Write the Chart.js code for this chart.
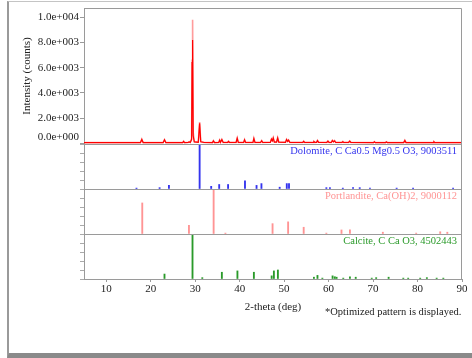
<!DOCTYPE html>
<html>
<head>
<meta charset="utf-8">
<script src="https://cdn.jsdelivr.net/npm/chart.js@4/dist/chart.umd.min.js"></script>
<style>
  body { margin: 0; background: #fff; }
  #wrap { position: relative; width: 472px; height: 358px; overflow: hidden; }
  #frame {
    position: absolute; left: 7px; top: 1px; width: 480px; height: 351px;
    border-left: 2px solid #9a9a9a; border-top: 1px solid #c4c4c4; border-bottom: 5px solid #8a8a8a;
  }
  canvas { position: absolute; left: 0; top: 0; }
  #note { position: absolute; left: 325px; top: 306px; font: 10.5px "Liberation Serif", serif; color: #222; white-space: nowrap; }
</style>
</head>
<body>
<div id="wrap">
  <div id="frame"></div>
  <canvas id="xrd_chart" width="472" height="358"></canvas>
  <div id="note">*Optimized pattern is displayed.</div>
</div>
<script>
// measured pattern (2-theta, counts)
const twoTheta = [5, 17.7, 18.0, 18.3, 22.8, 23.1, 23.4, 27.2, 27.4, 27.6, 28.4, 28.65, 28.9, 29.2, 29.3, 29.42, 29.55, 29.8,
  30.7, 31.0, 31.25, 32.0, 33.9, 34.1, 34.35, 35.3, 35.5, 35.7, 36.0, 36.3, 37.3, 37.5, 37.7, 39.2, 39.45, 39.7,
  40.9, 41.1, 41.35, 43.0, 43.2, 43.45, 44.7, 44.95, 45.2, 46.9, 47.15, 47.35, 47.55, 47.8, 48.3, 48.55, 48.8,
  50.3, 50.55, 50.8, 51.0, 51.3, 54.2, 54.4, 54.6, 56.5, 56.7, 57.0, 57.3, 57.5, 57.75, 59.6, 59.85, 60.1,
  60.6, 60.85, 61.1, 61.35, 61.6, 63.0, 63.2, 63.4, 64.5, 64.75, 65.0, 70.1, 70.3, 70.5, 72.8, 73.0, 73.2,
  76.9, 77.15, 77.4, 83.5, 83.7, 83.9, 90];
const calcCounts = [60, 60, 300, 60, 60, 280, 60, 60, 150, 60, 70, 120, 70, 300, 6400, 8200, 600, 120,
  90, 1600, 120, 70, 60, 200, 60, 70, 250, 90, 300, 70, 70, 150, 70, 70, 400, 70,
  70, 280, 70, 70, 380, 70, 70, 200, 70, 80, 330, 200, 420, 100, 100, 420, 90,
  80, 300, 150, 250, 70, 70, 160, 70, 70, 140, 70, 80, 220, 80, 70, 170, 70,
  70, 220, 120, 200, 70, 70, 130, 70, 70, 170, 70, 60, 120, 60, 60, 110, 60,
  60, 220, 60, 60, 120, 60, 60];
const obsCounts = [70, 70, 330, 70, 70, 300, 70, 70, 170, 70, 80, 140, 90, 400, 6600, 9800, 900, 150,
  100, 1700, 140, 80, 70, 220, 70, 80, 270, 100, 320, 80, 80, 170, 80, 80, 430, 80,
  80, 300, 80, 80, 400, 80, 80, 220, 80, 90, 350, 220, 450, 110, 110, 450, 100,
  90, 320, 170, 270, 80, 80, 180, 80, 80, 160, 80, 90, 240, 90, 80, 190, 80,
  80, 240, 140, 220, 80, 80, 150, 80, 80, 190, 80, 70, 140, 70, 70, 130, 70,
  70, 240, 70, 70, 140, 70, 70];

// reference patterns (2-theta, relative intensity %)
const dolomitePos = [16.8, 22.0, 24.1, 31.0, 33.6, 35.4, 37.4, 41.2, 43.8, 44.9, 49.0, 50.6, 51.1, 59.5, 60.3, 63.2, 65.5, 67.0, 69.3, 75.3, 79.0, 88.0];
const dolomiteInt = [2, 3, 8, 100, 6, 10, 10, 18, 8, 12, 4, 12, 12, 3, 3, 2, 3, 3, 2, 2, 2, 2];
const portlanditePos = [18.1, 28.6, 34.15, 36.8, 47.4, 50.9, 54.4, 59.5, 62.9, 64.8, 72.2, 79.7, 85.1, 86.7];
const portlanditeInt = [69, 19, 100, 2, 23, 27, 15, 2, 9, 9, 4, 2, 5, 4];
const calcitePos = [23.1, 29.4, 31.6, 36.0, 39.5, 43.2, 47.2, 47.7, 48.6, 56.7, 57.5, 58.6, 60.9, 61.4, 61.8, 63.3, 64.8, 66.1, 69.7, 70.7, 73.5, 76.8, 77.9, 80.6, 82.1, 84.3, 85.8];
const calciteInt = [11, 100, 3, 15, 18, 15, 7, 18, 20, 4, 8, 2, 7, 5, 4, 2, 5, 4, 2, 3, 4, 2, 2, 2, 3, 2, 2];

// tick values
const xTicks = [10, 20, 30, 40, 50, 60, 70, 80, 90];
const countTicks = [0, 2000, 4000, 6000, 8000, 10000];
const stickTicks = [0, 20, 40, 60, 80, 100];

const phaseLabels = ['Dolomite, C Ca0.5 Mg0.5 O3, 9003511', 'Portlandite, Ca(OH)2, 9000112', 'Calcite, C Ca O3, 4502443'];
const phaseColors = ['#3434ee', '#ff9494', '#2a9a2a'];

const serif = '"Liberation Serif", "Times New Roman", serif';

function toPoints(xs, ys) {
  return xs.map((x, i) => ({ x: x, y: ys[i] }));
}

function sciLabel(v) {
  if (v === 0) return ['0.0e+000', ''];
  const e = Math.floor(Math.log10(Math.abs(v)));
  const m = v / Math.pow(10, e);
  return m.toFixed(1) + 'e+' + String(e).padStart(3, '0');
}

function fixedTicks(values) {
  return function(scale) {
    scale.ticks = values.map(v => ({ value: v }));
  };
}

function stickAxis(weight) {
  return {
    type: 'linear', position: 'left', stack: 'xrd', stackWeight: 45, weight: weight,
    min: 0, max: 100,
    afterBuildTicks: fixedTicks(stickTicks),
    afterFit(scale) { scale.width = 76; },
    border: { color: '#9a9a9a' },
    grid: { drawOnChartArea: false, tickLength: 4, tickColor: '#aaaaaa' },
    ticks: { display: false }
  };
}

const panelFrame = {
  id: 'panelFrame',
  afterDraw(chart) {
    const { ctx, chartArea: a, scales } = chart;
    ctx.save();
    ctx.strokeStyle = '#9a9a9a';
    ctx.lineWidth = 1;
    ctx.beginPath();
    ctx.moveTo(a.left, a.top + 0.5);
    ctx.lineTo(a.right - 0.5, a.top + 0.5);
    ctx.lineTo(a.right - 0.5, a.bottom);
    ['y', 'yDol', 'yPor'].forEach(id => {
      const b = Math.round(scales[id].bottom) + 0.5;
      ctx.moveTo(a.left, b);
      ctx.lineTo(a.right, b);
    });
    ctx.stroke();

    ctx.font = '10.5px ' + serif;
    ctx.textAlign = 'right';
    ctx.textBaseline = 'middle';
    ['yDol', 'yPor', 'yCal'].forEach((id, i) => {
      ctx.fillStyle = phaseColors[i];
      ctx.fillText(phaseLabels[i], a.right - 5, scales[id].top + 7);
    });
    ctx.restore();
  }
};

new Chart(document.getElementById('xrd_chart'), {
  type: 'line',
  data: {
    datasets: [
      { label: 'calc', data: toPoints(twoTheta, calcCounts), yAxisID: 'y', borderColor: '#ff0000', borderWidth: 1.2, pointRadius: 0, order: 1 },
      { label: 'obs', data: toPoints(twoTheta, obsCounts), yAxisID: 'y', borderColor: '#ff9c9c', borderWidth: 1.6, pointRadius: 0, order: 2 },
      { type: 'bar', label: 'Dolomite', data: toPoints(dolomitePos, dolomiteInt), yAxisID: 'yDol', backgroundColor: phaseColors[0], barThickness: 1.2, grouped: false },
      { type: 'bar', label: 'Portlandite', data: toPoints(portlanditePos, portlanditeInt), yAxisID: 'yPor', backgroundColor: phaseColors[1], barThickness: 1.2, grouped: false },
      { type: 'bar', label: 'Calcite', data: toPoints(calcitePos, calciteInt), yAxisID: 'yCal', backgroundColor: phaseColors[2], barThickness: 1.2, grouped: false }
    ]
  },
  options: {
    responsive: false,
    animation: false,
    layout: { padding: { left: 8, top: 8, right: 10, bottom: 35 } },
    plugins: { legend: { display: false }, tooltip: { enabled: false } },
    scales: {
      x: {
        type: 'linear', min: 5, max: 90, offset: false,
        afterBuildTicks: fixedTicks(xTicks),
        afterFit(scale) { scale.height = 44; },
        border: { color: '#9a9a9a' },
        grid: { drawOnChartArea: false, offset: false, tickLength: 3, tickColor: '#9a9a9a' },
        ticks: { autoSkip: false, maxRotation: 0, padding: 1, color: '#222', font: { family: serif, size: 11 } },
        title: { display: true, text: '2-theta (deg)', color: '#222', padding: { top: 2, bottom: 9 }, font: { family: serif, size: 11 } }
      },
      y: {
        type: 'linear', position: 'left', stack: 'xrd', stackWeight: 136, weight: 4,
        min: -50, max: 10740,
        afterBuildTicks: fixedTicks(countTicks),
        afterFit(scale) { scale.width = 76; },
        border: { color: '#9a9a9a' },
        grid: { drawOnChartArea: false, tickLength: 4, tickColor: '#9a9a9a' },
        ticks: { autoSkip: false, padding: 1, color: '#222', font: { family: serif, size: 11 }, callback: v => sciLabel(v) },
        title: { display: true, text: 'Intensity (counts)', color: '#222', padding: { top: 13, bottom: 4 }, font: { family: serif, size: 11 } }
      },
      yDol: stickAxis(3),
      yPor: stickAxis(2),
      yCal: stickAxis(1)
    }
  },
  plugins: [panelFrame]
});
</script>
</body>
</html>
